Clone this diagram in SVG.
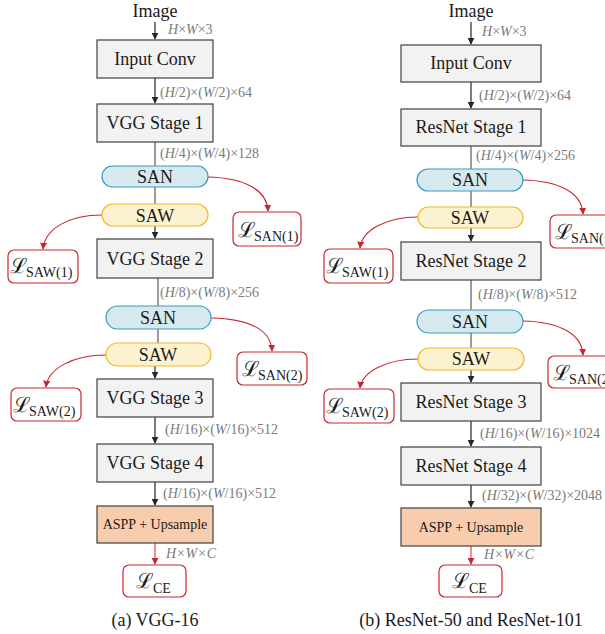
<svg xmlns="http://www.w3.org/2000/svg" width="605" height="634" viewBox="0 0 605 634" font-family="Liberation Serif">
<defs>
<marker id="ah" viewBox="0 0 10 10" refX="9" refY="5" markerWidth="7" markerHeight="7" orient="auto" markerUnits="userSpaceOnUse"><path d="M0,0 L10,5 L0,10 z" fill="#262626"/></marker>
<marker id="ahr" viewBox="0 0 10 10" refX="9" refY="5" markerWidth="7" markerHeight="7" orient="auto" markerUnits="userSpaceOnUse"><path d="M0,0 L10,5 L0,10 z" fill="#c8262e"/></marker>
<style>
.box{fill:#f2f2f2;stroke:#404040;stroke-width:1.2;}
.aspp{fill:#f8cdae;stroke:#404040;stroke-width:1.2;}
.san{fill:#d5e9ef;stroke:#3b9bbf;stroke-width:1.2;}
.saw{fill:#fdf2cf;stroke:#f0b92d;stroke-width:1.2;}
.loss{fill:#ffffff;stroke:#c8262e;stroke-width:1.2;}
.t{font-size:18px;fill:#1a1a1a;text-anchor:middle;}
.ts{font-size:14px;fill:#1a1a1a;text-anchor:middle;}
.lab{font-size:14px;fill:#7a7a7a;}
.arr{stroke:#262626;stroke-width:1.2;fill:none;marker-end:url(#ah);}
.ln{stroke:#595959;stroke-width:1.2;fill:none;}
.rarr{stroke:#c8262e;stroke-width:1.1;fill:none;marker-end:url(#ahr);}
.parr{stroke:#e0456a;stroke-width:1.2;fill:none;marker-end:url(#ahr);}
.L{font-size:21px;fill:#1a1a1a;}
.sub{font-size:14px;fill:#1a1a1a;}
.cap{font-size:18px;fill:#1a1a1a;text-anchor:middle;}
</style>
</defs>

<g id="connectors">
<path class="arr" d="M155,22 V39"/>
<path class="arr" d="M155,78 V103"/>
<path class="ln" d="M155,142 V166"/>
<path class="ln" d="M155,187 V204"/>
<path class="arr" d="M155,226 V238"/>
<path class="ln" d="M158,278 V306"/>
<path class="ln" d="M158,329 V343"/>
<path class="arr" d="M155,366 V378"/>
<path class="arr" d="M155,417 V443"/>
<path class="arr" d="M155,482 V505"/>
<path class="parr" d="M155,543 V564"/>
<path class="rarr" d="M208,177 C245,178 267,190 268,211"/>
<path class="rarr" d="M102,215 C70,215 45,228 43,249"/>
<path class="rarr" d="M211,318 C250,319 271,330 272,351"/>
<path class="rarr" d="M106,355 C74,355 48,368 46,387"/>
<path class="arr" d="M471,22 V44"/>
<path class="arr" d="M471,82 V108"/>
<path class="ln" d="M471,146 V169"/>
<path class="ln" d="M471,191 V207"/>
<path class="arr" d="M471,228 V241"/>
<path class="ln" d="M471,280 V310"/>
<path class="ln" d="M471,333 V348"/>
<path class="arr" d="M471,370 V382"/>
<path class="arr" d="M471,421 V446"/>
<path class="arr" d="M471,485 V507"/>
<path class="parr" d="M471,546 V564"/>
<path class="rarr" d="M523,180 C560,181 582,193 583,214"/>
<path class="rarr" d="M418,217 C386,217 362,230 360,248"/>
<path class="rarr" d="M523,321 C560,322 582,334 583,355"/>
<path class="rarr" d="M418,359 C386,359 362,372 360,388"/>
</g>

<g id="labels" font-family="Liberation Serif">
<text x="168" y="34" class="lab"><tspan font-style="italic">H</tspan>×<tspan font-style="italic">W</tspan>×3</text>
<text x="160" y="97" class="lab">(<tspan font-style="italic">H</tspan>/2)×(<tspan font-style="italic">W</tspan>/2)×64</text>
<text x="160" y="158" class="lab">(<tspan font-style="italic">H</tspan>/4)×(<tspan font-style="italic">W</tspan>/4)×128</text>
<text x="160" y="297" class="lab">(<tspan font-style="italic">H</tspan>/8)×(<tspan font-style="italic">W</tspan>/8)×256</text>
<text x="165" y="434" class="lab">(<tspan font-style="italic">H</tspan>/16)×(<tspan font-style="italic">W</tspan>/16)×512</text>
<text x="163" y="498" class="lab">(<tspan font-style="italic">H</tspan>/16)×(<tspan font-style="italic">W</tspan>/16)×512</text>
<text x="166" y="558" class="lab" font-style="italic">H×W×C</text>
<text x="482" y="36" class="lab"><tspan font-style="italic">H</tspan>×<tspan font-style="italic">W</tspan>×3</text>
<text x="479" y="100" class="lab">(<tspan font-style="italic">H</tspan>/2)×(<tspan font-style="italic">W</tspan>/2)×64</text>
<text x="476" y="160" class="lab">(<tspan font-style="italic">H</tspan>/4)×(<tspan font-style="italic">W</tspan>/4)×256</text>
<text x="478" y="299" class="lab">(<tspan font-style="italic">H</tspan>/8)×(<tspan font-style="italic">W</tspan>/8)×512</text>
<text x="480" y="438" class="lab">(<tspan font-style="italic">H</tspan>/16)×(<tspan font-style="italic">W</tspan>/16)×1024</text>
<text x="482" y="500" class="lab">(<tspan font-style="italic">H</tspan>/32)×(<tspan font-style="italic">W</tspan>/32)×2048</text>
<text x="484" y="559" class="lab" font-style="italic">H×W×C</text>
</g>

<g id="nodes-a" font-family="Liberation Serif">
<g id="a-image"><text x="155" y="17" class="t">Image</text></g>
<g id="a-inputconv"><rect class="box" x="97" y="40" width="116" height="38"/><text x="155" y="65" class="t">Input Conv</text></g>
<g id="a-stage1"><rect class="box" x="97" y="104" width="116" height="38"/><text x="155" y="129" class="t">VGG Stage 1</text></g>
<g id="a-san1"><rect class="san" x="102" y="166" width="106" height="21" rx="10.5"/><text x="155" y="182.5" class="t">SAN</text></g>
<g id="a-saw1"><rect class="saw" x="102" y="204" width="106" height="22" rx="11"/><text x="155" y="221.5" class="t">SAW</text></g>
<g id="a-stage2"><rect class="box" x="97" y="239" width="116" height="39"/><text x="155" y="265" class="t">VGG Stage 2</text></g>
<g id="a-lsan1"><rect class="loss" x="233" y="212" width="68" height="34" rx="6"/><text x="238" y="237" class="L">ℒ</text><text x="254" y="241" class="sub">SAN(1)</text></g>
<g id="a-lsaw1"><rect class="loss" x="8" y="250" width="70" height="33" rx="6"/><text x="10" y="273" class="L">ℒ</text><text x="26" y="277" class="sub">SAW(1)</text></g>
<g id="a-san2"><rect class="san" x="106" y="306" width="105" height="23" rx="11.5"/><text x="158" y="323.5" class="t">SAN</text></g>
<g id="a-saw2"><rect class="saw" x="106" y="343" width="105" height="23" rx="11.5"/><text x="158" y="360.5" class="t">SAW</text></g>
<g id="a-stage3"><rect class="box" x="97" y="379" width="116" height="38"/><text x="155" y="404" class="t">VGG Stage 3</text></g>
<g id="a-lsan2"><rect class="loss" x="237" y="352" width="70" height="33" rx="6"/><text x="242" y="376" class="L">ℒ</text><text x="258" y="380" class="sub">SAN(2)</text></g>
<g id="a-lsaw2"><rect class="loss" x="11" y="388" width="70" height="33" rx="6"/><text x="13" y="412" class="L">ℒ</text><text x="29" y="416" class="sub">SAW(2)</text></g>
<g id="a-stage4"><rect class="box" x="97" y="444" width="116" height="38"/><text x="155" y="469" class="t">VGG Stage 4</text></g>
<g id="a-aspp"><rect class="aspp" x="97" y="506" width="116" height="37"/><text x="155" y="529" class="ts">ASPP + Upsample</text></g>
<g id="a-lce"><rect class="loss" x="123" y="565" width="63" height="32" rx="6"/><text x="136" y="588" class="L">ℒ</text><text x="153" y="593" class="sub">CE</text></g>
<g id="a-caption"><text x="155" y="626" class="cap">(a) VGG-16</text></g>
</g>

<g id="nodes-b" font-family="Liberation Serif">
<g id="b-image"><text x="471" y="17" class="t">Image</text></g>
<g id="b-inputconv"><rect class="box" x="401" y="45" width="140" height="37"/><text x="471" y="69" class="t">Input Conv</text></g>
<g id="b-stage1"><rect class="box" x="401" y="109" width="140" height="37"/><text x="471" y="133" class="t">ResNet Stage 1</text></g>
<g id="b-san1"><rect class="san" x="417" y="169" width="106" height="22" rx="11"/><text x="470" y="186" class="t">SAN</text></g>
<g id="b-saw1"><rect class="saw" x="418" y="207" width="105" height="21" rx="10.5"/><text x="470" y="223.5" class="t">SAW</text></g>
<g id="b-stage2"><rect class="box" x="401" y="242" width="140" height="38"/><text x="471" y="267" class="t">ResNet Stage 2</text></g>
<g id="b-lsan1"><rect class="loss" x="550" y="215" width="70" height="33" rx="6"/><text x="555" y="239" class="L">ℒ</text><text x="571" y="243" class="sub">SAN(1)</text></g>
<g id="b-lsaw1"><rect class="loss" x="324" y="249" width="69" height="34" rx="6"/><text x="326" y="273" class="L">ℒ</text><text x="342" y="277" class="sub">SAW(1)</text></g>
<g id="b-san2"><rect class="san" x="417" y="310" width="106" height="23" rx="11.5"/><text x="470" y="327.5" class="t">SAN</text></g>
<g id="b-saw2"><rect class="saw" x="418" y="348" width="106" height="22" rx="11"/><text x="471" y="365" class="t">SAW</text></g>
<g id="b-stage3"><rect class="box" x="401" y="383" width="140" height="38"/><text x="471" y="408" class="t">ResNet Stage 3</text></g>
<g id="b-lsan2"><rect class="loss" x="548" y="356" width="70" height="32" rx="6"/><text x="553" y="380" class="L">ℒ</text><text x="569" y="384" class="sub">SAN(2)</text></g>
<g id="b-lsaw2"><rect class="loss" x="324" y="389" width="70" height="34" rx="6"/><text x="326" y="413" class="L">ℒ</text><text x="342" y="417" class="sub">SAW(2)</text></g>
<g id="b-stage4"><rect class="box" x="401" y="447" width="140" height="38"/><text x="471" y="472" class="t">ResNet Stage 4</text></g>
<g id="b-aspp"><rect class="aspp" x="401" y="508" width="140" height="38"/><text x="471" y="532" class="ts">ASPP + Upsample</text></g>
<g id="b-lce"><rect class="loss" x="439" y="565" width="63" height="32" rx="6"/><text x="452" y="588" class="L">ℒ</text><text x="469" y="593" class="sub">CE</text></g>
<g id="b-caption"><text x="471" y="626" class="cap">(b) ResNet-50 and ResNet-101</text></g>
</g>
</svg>
